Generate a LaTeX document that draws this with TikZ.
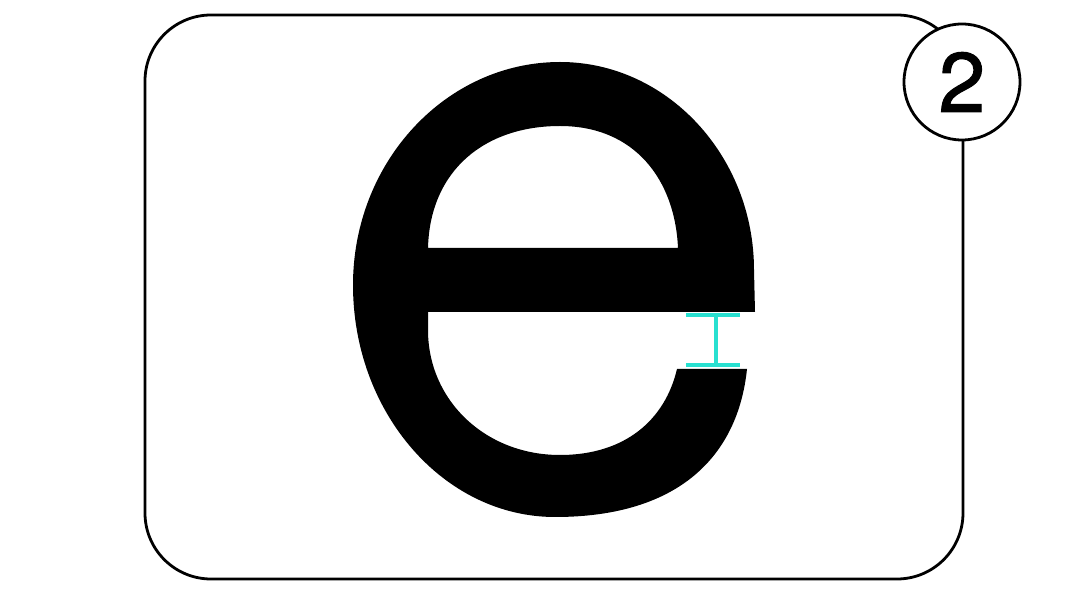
\documentclass[tikz,border=0pt]{standalone}
\usepackage{fontspec}
\setmainfont{TeX Gyre Heros}
\newfontfamily\badgefont[FakeBold=1.3]{TeX Gyre Heros}
\definecolor{markcyan}{RGB}{40,224,208}
\begin{document}
\begin{tikzpicture}[x=1pt,y=-1pt,
  frame/.style={draw=black,line width=2.8pt,rounded corners=66pt},
  badge/.style={circle,draw=black,fill=white,line width=2.8pt,minimum size=116pt,inner sep=0pt,font=\badgefont\fontsize{84}{84}\selectfont},
  marker/.style={draw=markcyan,line width=4pt}]
\useasboundingbox (0,0) rectangle (1080,601);
\fill[white] (0,0) rectangle (1080,601);
% frame
\draw[frame] (145,15) rectangle (963,579);
% letter e
\fill[black,even odd rule]
  (755,312) -- (754,270)
  .. controls (754,156) and (667,62) .. (560,62)
  .. controls (446,62) and (353,162) .. (353,285)
  .. controls (353,413) and (444,517) .. (555,517)
  .. controls (680,517) and (738,455) .. (747,369)
  -- (677,369)
  .. controls (665,420) and (625,455) .. (560,455)
  .. controls (485,455) and (428,400) .. (428,330)
  -- (428,312) -- cycle
  (428,248) .. controls (430,170) and (485,126) .. (560,126)
  .. controls (635,126) and (675,180) .. (678,248) -- cycle;
% aperture marker
\coordinate (mt) at (716,315);
\coordinate (mb) at (716,365);
\draw[marker] (686,315) -- (740,315);
\draw[marker] (686,365) -- (740,365);
\draw[marker] (mt) -- (mb);
% badge
\node[badge] (two) at (962,82) {2};
\end{tikzpicture}
\end{document}
